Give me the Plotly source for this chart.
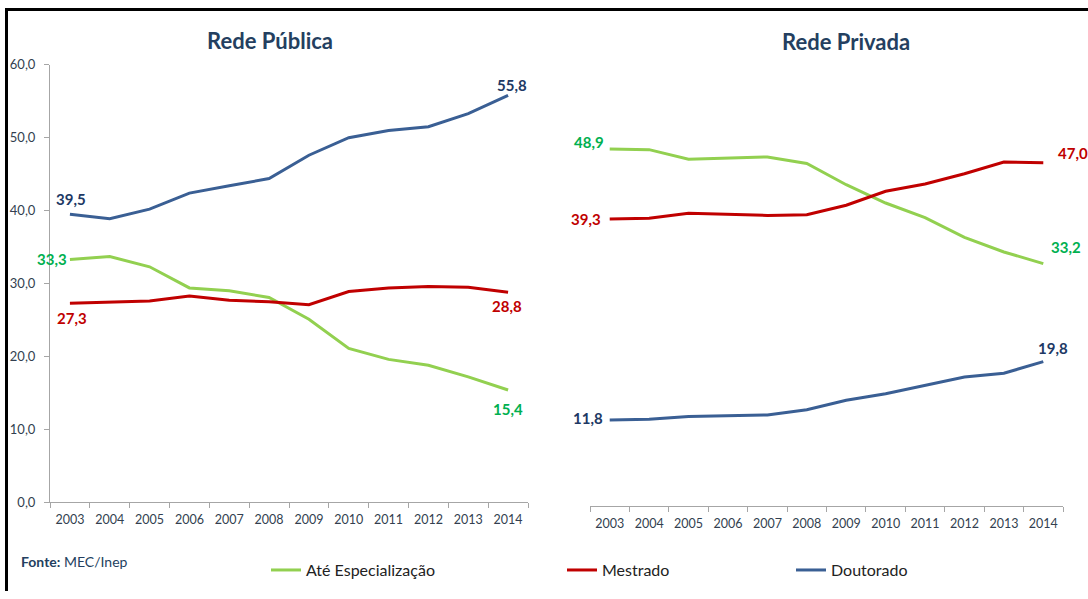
import plotly.graph_objects as go

anos = ['2003', '2004', '2005', '2006', '2007', '2008',
        '2009', '2010', '2011', '2012', '2013', '2014']

# Rede Publica
pub_especializacao = [33.3, 33.7, 32.3, 29.4, 29.0, 28.1, 25.1, 21.1, 19.6, 18.8, 17.2, 15.4]
pub_mestrado = [27.3, 27.4, 27.6, 28.3, 27.7, 27.5, 27.1, 28.9, 29.4, 29.6, 29.5, 28.8]
pub_doutorado = [39.5, 38.9, 40.2, 42.4, 43.4, 44.4, 47.6, 50.0, 51.0, 51.5, 53.3, 55.8]

# Rede Privada
priv_especializacao = [48.9, 48.8, 47.5, 47.6, 47.8, 46.9, 44.0, 41.5, 39.5, 36.8, 34.8, 33.2]
priv_mestrado = [39.3, 39.4, 40.1, 39.9, 39.8, 39.9, 41.2, 43.1, 44.1, 45.5, 47.1, 47.0]
priv_doutorado = [11.8, 11.9, 12.3, 12.4, 12.5, 13.2, 14.5, 15.4, 16.6, 17.7, 18.2, 19.8]

serie_nomes = ['Até Especialização', 'Mestrado', 'Doutorado']
cores = ['#92D050', '#C00000', '#3A5F94']
cores_rotulo = ['#00B050', '#C00000', '#203864']

fonte = 'Lato'
W, H = 1088, 599

# a figura aparece na foto entre y=7 e y=592, entao converto pixel -> papel assim
def py(y):
    return 1 - (y - 7) / 585.0

fig = go.Figure()

pub = [pub_especializacao, pub_mestrado, pub_doutorado]
priv = [priv_especializacao, priv_mestrado, priv_doutorado]
legendas = ['legend', 'legend2', 'legend3']

for i in range(3):
    fig.add_trace(go.Scatter(x=anos, y=pub[i], mode='lines', name=serie_nomes[i],
                             line=dict(color=cores[i], width=3),
                             xaxis='x', yaxis='y', legend=legendas[i]))
    fig.add_trace(go.Scatter(x=anos, y=priv[i], mode='lines', name=serie_nomes[i],
                             line=dict(color=cores[i], width=3), showlegend=False,
                             xaxis='x2', yaxis='y2'))

def fmt(v):
    return ('%.1f' % v).replace('.', ',')

# rotulos de inicio e fim: (serie, dados, eixo x, eixo y, indice, xanchor, xshift, yshift)
rotulos = [
    (2, pub_doutorado, 'x', 'y', 0, 'center', 1, 15),
    (2, pub_doutorado, 'x', 'y', 11, 'center', 4, 10),
    (0, pub_especializacao, 'x', 'y', 0, 'right', -1, 0),
    (1, pub_mestrado, 'x', 'y', 0, 'center', 2, -15),
    (1, pub_mestrado, 'x', 'y', 11, 'center', -1, -14),
    (0, pub_especializacao, 'x', 'y', 11, 'center', 0, -19),
    (0, priv_especializacao, 'x2', 'y2', 0, 'right', -4, 7),
    (1, priv_mestrado, 'x2', 'y2', 0, 'right', -7, 0),
    (2, priv_doutorado, 'x2', 'y2', 0, 'right', -5, 2),
    (1, priv_mestrado, 'x2', 'y2', 11, 'left', 13, 10),
    (0, priv_especializacao, 'x2', 'y2', 11, 'left', 6, 17),
    (2, priv_doutorado, 'x2', 'y2', 11, 'center', 10, 14),
]
anotacoes = []
for s, dados, xr, yr, idx, xa, dx, dy in rotulos:
    # no eixo de categorias a posicao e o indice do ano
    anotacoes.append(dict(x=idx, y=dados[idx], xref=xr, yref=yr,
                          text='<b>' + fmt(dados[idx]) + '</b>', showarrow=False,
                          xanchor=xa, yanchor='middle', xshift=dx, yshift=dy,
                          font=dict(family=fonte, size=15, color=cores_rotulo[s])))

anotacoes.append(dict(x=270 / W, y=py(40), xref='paper', yref='paper',
                      text='<b>Rede Pública</b>', showarrow=False,
                      xanchor='center', yanchor='middle',
                      font=dict(family=fonte, size=22, color='#243F60')))
anotacoes.append(dict(x=846 / W, y=py(41), xref='paper', yref='paper',
                      text='<b>Rede Privada</b>', showarrow=False,
                      xanchor='center', yanchor='middle',
                      font=dict(family=fonte, size=22, color='#243F60')))
anotacoes.append(dict(x=19 / W, y=py(562), xref='paper', yref='paper',
                      text='<b>Fonte:</b> MEC/Inep', showarrow=False,
                      xanchor='left', yanchor='middle',
                      font=dict(family=fonte, size=14, color='#243F60')))

eixo_x = dict(type='category', showline=True, linecolor='#A6A6A6', linewidth=1,
              ticks='outside', ticklen=5, tickcolor='#A6A6A6', tickson='boundaries',
              showgrid=False, zeroline=False, range=[-0.5, 11.5], fixedrange=True,
              ticklabelstandoff=6,
              tickfont=dict(family=fonte, size=12.5, color='#333F50'))

leg_base = dict(orientation='h', yanchor='middle', y=py(571), xanchor='left',
                bgcolor='rgba(0,0,0,0)', font=dict(family=fonte, size=16, color='#222222'))

fig.update_layout(
    width=W, height=H,
    margin=dict(l=0, r=0, t=0, b=0),
    paper_bgcolor='white', plot_bgcolor='white',
    separators=',.',
    xaxis=dict(eixo_x, domain=[50 / W, 528 / W], anchor='y'),
    yaxis=dict(domain=[py(503), py(64)], range=[0, 60], dtick=10, tickformat='.1f',
               showline=True, linecolor='#A6A6A6', ticks='outside', ticklen=5,
               tickcolor='#A6A6A6', showgrid=False, zeroline=False, fixedrange=True,
               ticklabelstandoff=6,
               tickfont=dict(family=fonte, size=13, color='#333F50'), anchor='x'),
    xaxis2=dict(eixo_x, domain=[590 / W, 1063 / W], anchor='y2'),
    yaxis2=dict(domain=[py(507), py(67)], range=[0, 60], visible=False, anchor='x2'),
    legend=dict(leg_base, x=266 / W),
    legend2=dict(leg_base, x=562 / W),
    legend3=dict(leg_base, x=791 / W),
    annotations=anotacoes,
    showlegend=True,
    shapes=[
        dict(type='line', xref='paper', yref='paper', x0=5 / W, x1=1, y0=py(8.5), y1=py(8.5),
             line=dict(color='black', width=3)),
        dict(type='line', xref='paper', yref='paper', x0=6.5 / W, x1=6.5 / W, y0=0, y1=py(7),
             line=dict(color='black', width=3)),
    ],
)

fig.write_html('out.html', config={'displayModeBar': False},
               post_script="document.body.style.margin='0';")
